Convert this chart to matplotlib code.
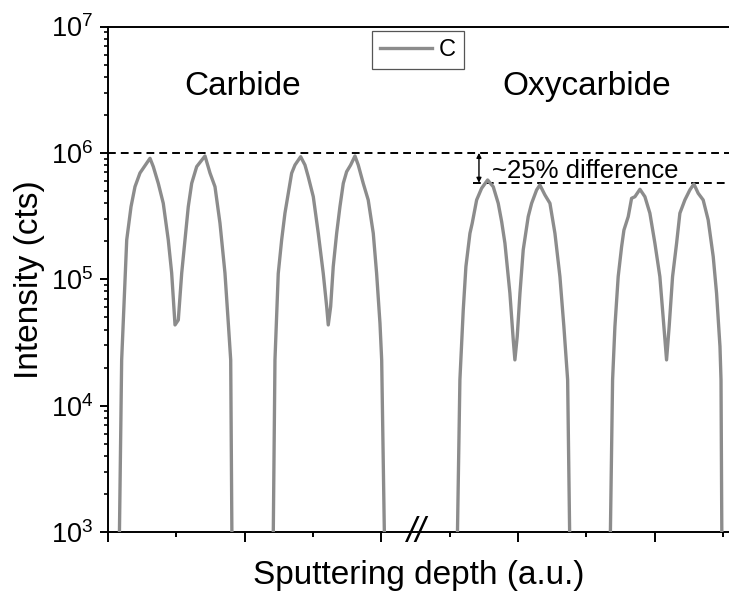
import matplotlib
matplotlib.use("Agg")
import matplotlib.pyplot as plt
from matplotlib.ticker import MultipleLocator, LogLocator, NullFormatter
import numpy as np

# ---------------------------------------------------------------------------
# Data: C depth profiles (x in a.u., intensity in cts)
# ---------------------------------------------------------------------------

# Carbide, profile 1
p1_x = [0.155, 0.200, 0.274, 0.337, 0.395, 0.468, 0.615, 0.663, 0.736, 0.809,
        0.882, 0.932, 0.981, 1.029, 1.079, 1.127, 1.175, 1.225, 1.298, 1.420,
        1.493, 1.566, 1.639, 1.712, 1.761, 1.796, 1.820]
p1_y = [3e2, 2.30e4, 2.05e5, 3.75e5, 5.40e5, 6.93e5, 9.06e5, 7.78e5, 5.74e5, 3.99e5,
        2.05e5, 1.12e5, 4.35e4, 4.76e4, 1.12e5, 2.05e5, 3.75e5, 5.74e5, 7.78e5, 9.45e5,
        6.93e5, 5.40e5, 2.78e5, 1.12e5, 4.49e4, 2.30e4, 3e2]

# Carbide, profile 2
p2_x = [2.410, 2.444, 2.492, 2.542, 2.590, 2.639, 2.688, 2.737, 2.820, 2.883,
        2.931, 3.005, 3.078, 3.151, 3.201, 3.224, 3.259, 3.297, 3.347, 3.395,
        3.444, 3.493, 3.552, 3.615, 3.663, 3.736, 3.809, 3.883, 3.932, 3.981,
        4.006, 4.060]
p2_y = [3e2, 2.30e4, 1.11e5, 2.05e5, 3.33e5, 4.79e5, 6.90e5, 8.02e5, 9.33e5, 8.02e5,
        6.48e5, 4.50e5, 2.31e5, 1.11e5, 6.07e4, 4.35e4, 6.07e4, 1.26e5, 2.31e5, 3.75e5,
        5.74e5, 7.10e5, 8.02e5, 9.45e5, 8.02e5, 5.74e5, 4.24e5, 2.31e5, 1.11e5, 4.49e4,
        2.30e4, 3e2]

# Oxycarbide, profile 3
p3_x = [5.100, 5.151, 5.200, 5.239, 5.298, 5.331, 5.396, 5.469, 5.557, 5.639,
        5.712, 5.762, 5.810, 5.883, 5.932, 5.956, 5.990, 6.030, 6.078, 6.151,
        6.201, 6.274, 6.322, 6.395, 6.469, 6.542, 6.615, 6.673, 6.728, 6.770]
p3_y = [3e2, 1.6e4, 5.71e4, 1.26e5, 2.31e5, 2.77e5, 4.24e5, 5.25e5, 6.10e5, 5.40e5,
        3.99e5, 2.86e5, 1.93e5, 7.74e4, 3.31e4, 2.30e4, 3.52e4, 7.74e4, 1.71e5, 3.13e5,
        3.99e5, 5.09e5, 5.57e5, 4.65e5, 3.99e5, 2.31e5, 1.05e5, 4.22e4, 1.6e4, 3e2]

# Oxycarbide, profile 4
p4_x = [7.340, 7.386, 7.420, 7.468, 7.518, 7.552, 7.615, 7.664, 7.713, 7.786,
        7.859, 7.932, 8.005, 8.078, 8.137, 8.176, 8.214, 8.264, 8.323, 8.371,
        8.444, 8.517, 8.576, 8.639, 8.712, 8.785, 8.859, 8.908, 8.958, 8.973,
        8.990]
p4_y = [3e2, 1.6e4, 4.22e4, 1.05e5, 1.81e5, 2.45e5, 3.13e5, 4.37e5, 4.50e5, 5.15e5,
        4.50e5, 3.33e5, 1.93e5, 1.05e5, 4.22e4, 2.30e4, 4.22e4, 1.05e5, 1.93e5, 3.33e5,
        4.24e5, 5.09e5, 5.67e5, 4.79e5, 4.24e5, 2.95e5, 1.51e5, 7.74e4, 2.93e4, 1.6e4,
        3e2]

carbide_max = 1e6
oxy_max = 5.8e5
diff_x_start = 5.34
arrow_x = 5.43
break_x = 4.52

LINE_COLOR = "#8c8c8c"

plt.rcParams.update({
    "font.family": ["Liberation Sans", "DejaVu Sans"],
    "mathtext.fontset": "custom",
    "mathtext.rm": "Liberation Sans",
    "mathtext.it": "Liberation Sans:italic",
    "mathtext.bf": "Liberation Sans:bold",
})

fig = plt.figure(figsize=(7.29, 5.93), dpi=100)
ax = fig.add_axes([108 / 729, 61 / 593, 621 / 729, 505.5 / 593])

nan = [np.nan]
xs = np.concatenate([p1_x, nan, p2_x, nan, p3_x, nan, p4_x])
ys = np.concatenate([p1_y, nan, p2_y, nan, p3_y, nan, p4_y])
ax.plot(xs, ys, color=LINE_COLOR, lw=2.4, label="C", zorder=3,
        solid_joinstyle="round")

ax.set_yscale("log")
ax.set_ylim(1e3, 1e7)
ax.set_xlim(0, 9.09)

# reference lines
dash = (0, (4, 2.6))
ax.axhline(carbide_max, color="black", lw=1.4, ls=dash, zorder=2)
ax.hlines(oxy_max, diff_x_start, 9.09, color="black", lw=1.4, ls=dash, zorder=2)
ax.annotate("", xy=(arrow_x, oxy_max), xytext=(arrow_x, carbide_max),
            arrowprops=dict(arrowstyle="<|-|>", color="black", lw=1.0,
                            mutation_scale=7, shrinkA=0, shrinkB=0))
ax.text(5.62, 6.3e5, "~25% difference", fontsize=18.5, ha="left", va="baseline")

ax.text(1.976, 3.38e6, "Carbide", fontsize=24, ha="center", va="center")
ax.text(7.01, 3.38e6, "Oxycarbide", fontsize=24, ha="center", va="center")

# axis break mark
ax.text(break_x, 1e3, "//", fontsize=25, ha="center", va="center",
        fontstyle="italic", clip_on=False, zorder=5)

# spines / ticks
for side in ("left", "bottom", "top"):
    ax.spines[side].set_linewidth(1.4)
ax.spines["right"].set_visible(False)

ax.xaxis.set_major_locator(MultipleLocator(2))
ax.xaxis.set_minor_locator(MultipleLocator(1))
ax.xaxis.set_major_formatter(NullFormatter())
ax.yaxis.set_minor_locator(LogLocator(base=10, subs=np.arange(2, 10)))
ax.yaxis.set_minor_formatter(NullFormatter())
ax.tick_params(axis="x", which="major", direction="out", length=7, width=1.4)
ax.tick_params(axis="x", which="minor", direction="out", length=3.5, width=1.4)
ax.tick_params(axis="y", which="major", direction="out", length=5.5, width=1.4,
               labelsize=19.5, pad=5)
ax.tick_params(axis="y", which="minor", direction="out", length=3, width=1.2)
ax.tick_params(top=False, right=False, which="both")

ax.set_xlabel("Sputtering depth (a.u.)", fontsize=24, labelpad=10)
ax.set_ylabel("Intensity (cts)", fontsize=24, labelpad=4)

leg = ax.legend(loc="upper left", bbox_to_anchor=(0.425, 0.992), fontsize=17,
                frameon=True, fancybox=False, framealpha=1, edgecolor="#555555",
                handlelength=2.2, handletextpad=0.3, borderpad=0.35,
                borderaxespad=0)
leg.get_frame().set_linewidth(0.9)

fig.savefig("out.png", dpi=100, facecolor="white")
